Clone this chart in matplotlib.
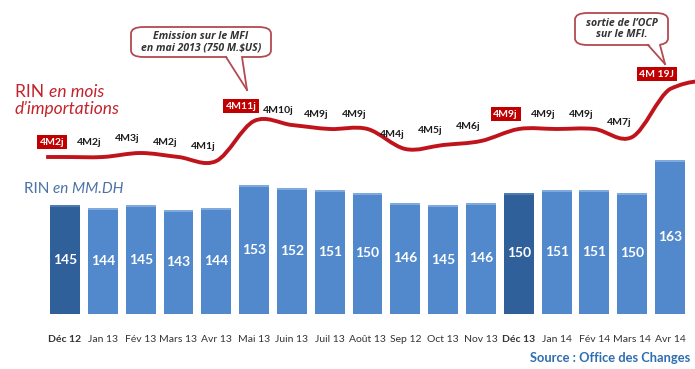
import matplotlib
matplotlib.use('Agg')
import matplotlib.pyplot as plt
import numpy as np
from matplotlib.path import Path
from matplotlib.patches import PathPatch, FancyBboxPatch, Polygon
from matplotlib.lines import Line2D

# ---------------- data ----------------
mois = ["Déc 12", "Jan 13", "Fév 13", "Mars 13", "Avr 13", "Mai 13", "Juin 13",
        "Juil 13", "Août 13", "Sep 12", "Oct 13", "Nov 13", "Déc 13", "Jan 14",
        "Fév 14", "Mars 14", "Avr 14"]
rin_mmdh = [145, 144, 145, 143, 144, 153, 152, 151, 150, 146, 145, 146, 150,
            151, 151, 150, 163]
rin_mois = [4, 4, 4, 4, 4, 4, 4, 4, 4, 4, 4, 4, 4, 4, 4, 4, 4]
rin_jours = [2, 2, 3, 2, 1, 11, 10, 9, 9, 4, 5, 6, 9, 9, 9, 7, 19]
rin_labels = ["4M2j", "4M2j", "4M3j", "4M2j", "4M1j", "4M11j", "4M10j", "4M9j",
              "4M9j", "4M4j", "4M5j", "4M6j", "4M9j", "4M9j", "4M9j", "4M7j",
              "4M 19J"]
labels_encadres = ["Déc 12", "Mai 13", "Déc 13", "Avr 14"]
barres_foncees = ["Déc 12", "Déc 13"]
callout_1 = "Emission sur le MFI\nen mai 2013 (750 M.$US)"
callout_2 = "sortie de l’OCP\nsur le MFI."
source = "Source : Office des Changes"

FONT = "Lato"
plt.rcParams['font.family'] = [FONT, 'DejaVu Sans']

W, H = 695, 369
fig = plt.figure(figsize=(W / 100, H / 100), dpi=100)
fig.patch.set_facecolor('white')


def fx(x):
    return x / W


def fy(y):
    return 1 - y / H


# ---------------- bars ----------------
ax = fig.add_axes([0, fy(314), 1, 314 / H])
ax.set_xlim(-1.72, 16.66)
ymin = 101.4
ax.set_ylim(ymin, ymin + 314 / 2.5)
x = np.arange(len(mois))
colors = ['#30609a' if m in barres_foncees else '#5189cc' for m in mois]
ax.bar(x, rin_mmdh, width=0.79, color=colors, edgecolor='none', zorder=2)
for i, v in enumerate(rin_mmdh):
    ax.bar(x[i], 0.9, bottom=v - 0.9, width=0.79,
           color='#7eaade' if mois[i] not in barres_foncees else '#4d7bb2',
           edgecolor='none', zorder=3)
    ax.text(x[i], (v + ymin) / 2, str(v), ha='center', va='center',
            color='white', fontsize=10, fontweight='bold', zorder=4)

ax.set_xticks(x)
ax.set_xticklabels(mois, fontsize=7.5, color='#333333')
for lab, m in zip(ax.get_xticklabels(), mois):
    if m in barres_foncees:
        lab.set_fontweight('bold')
ax.tick_params(axis='x', length=0, pad=15)
ax.set_yticks([])
for s in ax.spines.values():
    s.set_visible(False)
ax.patch.set_alpha(0)

# ---------------- line (twin axis, in days) ----------------
ax2 = ax.twinx()
ax2.set_ylim(122 - 157 / 4.0, 122 + 157 / 4.0)
ax2.set_yticks([])
for s in ax2.spines.values():
    s.set_visible(False)

yv = np.array(rin_mois) * 30 + np.array(rin_jours)
n = len(yv)
t = np.zeros(n)
t[1:-1] = (yv[2:] - yv[:-2]) / 2
t[0] = 0
t[-1] = (yv[-1] - yv[-2]) / 2
verts = [(x[0] - 0.5, yv[0]), (x[0], yv[0])]
codes = [Path.MOVETO, Path.LINETO]
for i in range(n - 1):
    verts += [(x[i] + 1 / 3, yv[i] + t[i] / 3),
              (x[i + 1] - 1 / 3, yv[i + 1] - t[i + 1] / 3),
              (x[i + 1], yv[i + 1])]
    codes += [Path.CURVE4] * 3
verts += [(x[-1] + 0.4, yv[-1] + t[-1] * 0.3), (x[-1] + 0.8, yv[-1] + t[-1] * 0.33)]
codes += [Path.CURVE3, Path.CURVE3]
ax2.add_patch(PathPatch(Path(verts, codes), fill=False, edgecolor='#c0141c',
                        lw=2.8, capstyle='butt', zorder=5, clip_on=False))

for i, lab in enumerate(rin_labels):
    boxed = mois[i] in labels_encadres
    kw = dict(ha='center', va='center', fontsize=7.5, fontweight='bold',
              textcoords='offset points', xytext=(-9.5, 10.8), zorder=6)
    if boxed:
        ax2.annotate(lab, (x[i], yv[i]), color='white',
                     bbox=dict(boxstyle='square,pad=0.25', fc='#c00000', ec='none'),
                     **kw)
    else:
        ax2.annotate(lab, (x[i], yv[i]), color='#1a1a1a', **kw)

# ---------------- titles ----------------
red = '#c4232b'
t1 = fig.text(fx(15), fy(97), "RIN ", color=red, fontsize=12.5, va='baseline')
plt.annotate("en mois", xy=(1, 0), xycoords=t1, va='bottom', ha='left',
             color=red, fontsize=12.5, style='italic')
fig.text(fx(15), fy(114), "d’importations", color=red, fontsize=12.5,
         style='italic', va='baseline')

blue = '#4c72a4'
t2 = fig.text(fx(24), fy(193), "RIN ", color=blue, fontsize=11, va='baseline')
plt.annotate("en MM.DH", xy=(1, 0), xycoords=t2, va='bottom', ha='left',
             color=blue, fontsize=11, style='italic')

fig.text(fx(690), fy(362), source, color='#2d6db0', fontsize=9.3,
         fontweight='bold', ha='right', va='baseline')


# ---------------- callouts ----------------
def callout(x0, y0, x1, y1, base_a, base_b, tip, text, fs):
    ec = '#b34a52'
    box = FancyBboxPatch((fx(x0), fy(y1)), fx(x1 - x0), (y1 - y0) / H,
                         boxstyle='round,pad=0,rounding_size=0.018',
                         transform=fig.transFigure, fc='white', ec=ec, lw=1.3,
                         zorder=10)
    fig.patches.append(box)
    tri = Polygon([(fx(base_a), fy(y1 - 2)), (fx(base_b), fy(y1 - 2)),
                   (fx(tip[0]), fy(tip[1]))], closed=True,
                  transform=fig.transFigure, fc='white', ec='none', zorder=11)
    fig.patches.append(tri)
    for bx in (base_a, base_b):
        fig.lines.append(Line2D([fx(bx), fx(tip[0])], [fy(y1), fy(tip[1])],
                                transform=fig.transFigure, color=ec, lw=1.3,
                                zorder=12))
    fig.text(fx((x0 + x1) / 2), fy((y0 + y1) / 2), text, ha='center',
             va='center', fontsize=fs, style='italic', fontweight='bold',
             family=['Open Sans', 'DejaVu Sans'],
             color='#333333', linespacing=1.1, zorder=13)


callout(131, 27, 271, 57, 226, 242, (247, 90), callout_1, 7.6)
callout(575, 13, 668, 45, 648, 660, (665, 64), callout_2, 7.6)

fig.savefig('out.png', dpi=100, facecolor='white')
